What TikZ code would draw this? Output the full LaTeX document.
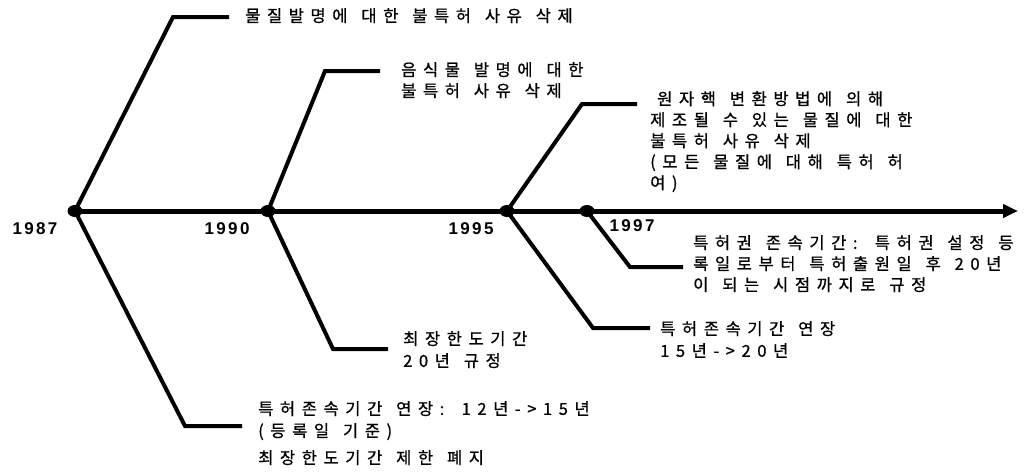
\documentclass[tikz,border=0pt]{standalone}
\usepackage{fontspec}
\newfontfamily\kr[LetterSpace=40,WordSpace=1.35,FakeBold=0.8]{Noto Sans CJK KR}
\newfontfamily\yr[LetterSpace=14]{Liberation Sans}
\usetikzlibrary{arrows.meta,shapes.geometric}
\begin{document}
\begin{tikzpicture}[x=1pt,y=-1pt,
  branch/.style={line width=4pt,line join=miter},
  axisline/.style={line width=5pt,-{Triangle[length=15pt,width=13pt]}},
  dotnode/.style={ellipse,fill=black,inner sep=0pt,minimum width=15pt,minimum height=12pt},
  yearlabel/.style={font={\yr\bfseries\fontsize{17}{18}\selectfont},inner sep=0pt},
  txt/.style={font={\kr\fontsize{16.5}{21}\selectfont},align=left,inner sep=0pt,anchor=north west},
  txtb/.style={font={\kr\fontsize{16.5}{22}\selectfont},align=left,inner sep=0pt,anchor=north west}]
\useasboundingbox (0,0) rectangle (1036,475);
% timeline dots
\node[dotnode] (d87) at (75,211) {};
\node[dotnode] (d90) at (268,211) {};
\node[dotnode] (d95) at (507,211) {};
\node[dotnode] (d97) at (587,211) {};
\coordinate (axend) at (1018,211);
\draw[axisline] (d87.center) -- (axend);
% year labels
\node[yearlabel] (y87) at (35,229) {1987};
\node[yearlabel] (y90) at (227,229) {1990};
\node[yearlabel] (y95) at (471,229) {1995};
\node[yearlabel] (y97) at (632,226) {1997};
% branch corners and ends
\coordinate (c87u) at (173,17);  \coordinate (e87u) at (229,17);
\coordinate (c87d) at (185,426); \coordinate (e87d) at (242,426);
\coordinate (c90u) at (325,71);  \coordinate (e90u) at (380,71);
\coordinate (c90d) at (333,349); \coordinate (e90d) at (388,349);
\coordinate (c95u) at (582,104); \coordinate (e95u) at (637,104);
\coordinate (c95d) at (593,328); \coordinate (e95d) at (650,328);
\coordinate (c97d) at (630,267); \coordinate (e97d) at (683,267);
\draw[branch] (d87.center) -- (c87u) -- (e87u);
\draw[branch] (d87.center) -- (c87d) -- (e87d);
\draw[branch] (d90.center) -- (c90u) -- (e90u);
\draw[branch] (d90.center) -- (c90d) -- (e90d);
\draw[branch] (d95.center) -- (c95u) -- (e95u);
\draw[branch] (d95.center) -- (c95d) -- (e95d);
\draw[branch] (d97.center) -- (c97d) -- (e97d);
% texts
\node[txt] (t87u) at (245,8) {물질발명에 대한 불특허 사유 삭제};
\node[txt] (t90u) at (401,62) {음식물 발명에 대한\\불특허 사유 삭제};
\node[txt] (t95u) at (650,91) {\hspace{7pt}원자핵 변환방법에 의해\\제조될 수 있는 물질에 대한\\불특허 사유 삭제\\(모든 물질에 대해 특허 허\\여)};
\node[txt] (t97d) at (693,235) {특허권 존속기간: 특허권 설정 등\\록일로부터 특허출원일 후 20년\\이 되는 시점까지로 규정};
\node[txtb] (t90d) at (403,331) {최장한도기간\\20년 규정};
\node[txtb] (t95d) at (660,321) {특허존속기간 연장\\15년->20년};
\node[txtb] (t87d) at (258,401) {특허존속기간 연장: 12년->15년\\(등록일 기준)};
\node[txt] (t87e) at (258,450) {최장한도기간 제한 폐지};
\end{tikzpicture}
\end{document}
